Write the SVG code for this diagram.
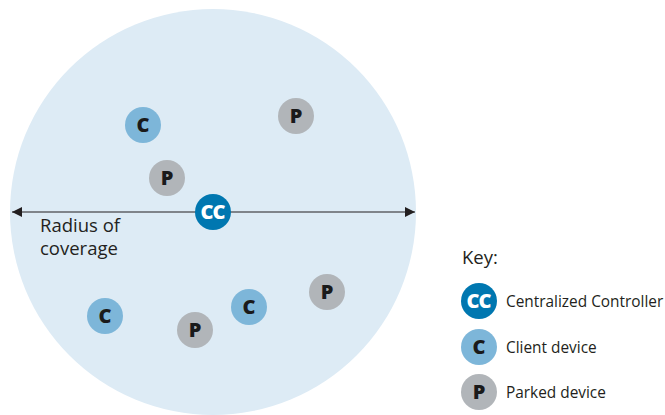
<svg xmlns="http://www.w3.org/2000/svg" width="665" height="415" viewBox="0 0 665 415">
<style>
.cc{fill:#0077b0}
.c{fill:#7db6d9}
.p{fill:#b1b5b9}
.lbl{font-family:"Open Sans","Noto Sans",sans-serif;font-weight:800;font-size:20px;text-anchor:middle;fill:#1a1a1a}
.lblw{font-family:"Open Sans","Noto Sans",sans-serif;font-weight:800;font-size:20px;text-anchor:middle;fill:#ffffff;letter-spacing:-1px}
.t{font-family:"Open Sans","Noto Sans",sans-serif;font-size:18.5px;fill:#231f20}
.k{font-family:"Open Sans","Noto Sans",sans-serif;font-size:15.4px;fill:#231f20}
</style>
<defs>
<marker id="ah" viewBox="0 0 10 10" refX="10" refY="5" markerWidth="10" markerHeight="10" markerUnits="userSpaceOnUse" orient="auto-start-reverse">
<path d="M0,0 L10,5 L0,10 Z" fill="#231f20"/>
</marker>
</defs>
<rect width="665" height="415" fill="#ffffff"/>
<circle id="coverage" cx="213" cy="212" r="203" fill="#ddebf5"/>
<g id="connectors">
<line x1="12" y1="212" x2="415" y2="212" stroke="#231f20" stroke-width="1.2" marker-start="url(#ah)" marker-end="url(#ah)"/>
</g>
<text class="t" x="40" y="232">Radius of</text>
<text class="t" x="40" y="255">coverage</text>
<g id="c1"><circle class="c" cx="143" cy="125" r="18"/><text class="lbl" x="143" y="132">C</text></g>
<g id="p1"><circle class="p" cx="296" cy="116" r="18"/><text class="lbl" x="296" y="123">P</text></g>
<g id="p2"><circle class="p" cx="167" cy="178" r="18"/><text class="lbl" x="167" y="185">P</text></g>
<g id="cc"><circle class="cc" cx="213" cy="212" r="18"/><text class="lblw" x="212.5" y="219">CC</text></g>
<g id="c2"><circle class="c" cx="105" cy="316" r="18"/><text class="lbl" x="105" y="323">C</text></g>
<g id="p3"><circle class="p" cx="195" cy="330" r="18"/><text class="lbl" x="195" y="337">P</text></g>
<g id="c3"><circle class="c" cx="249" cy="307" r="18"/><text class="lbl" x="249" y="314">C</text></g>
<g id="p4"><circle class="p" cx="327" cy="292" r="18"/><text class="lbl" x="327" y="299">P</text></g>
<g id="key">
<text class="t" x="462" y="264">Key:</text>
<circle class="cc" cx="479" cy="301" r="18"/><text class="lblw" x="478.5" y="308">CC</text>
<text class="k" x="506" y="307">Centralized Controller</text>
<circle class="c" cx="479" cy="347" r="18"/><text class="lbl" x="479" y="354">C</text>
<text class="k" x="506" y="353">Client device</text>
<circle class="p" cx="479" cy="392" r="18"/><text class="lbl" x="479" y="399">P</text>
<text class="k" x="506" y="398">Parked device</text>
</g>
</svg>
